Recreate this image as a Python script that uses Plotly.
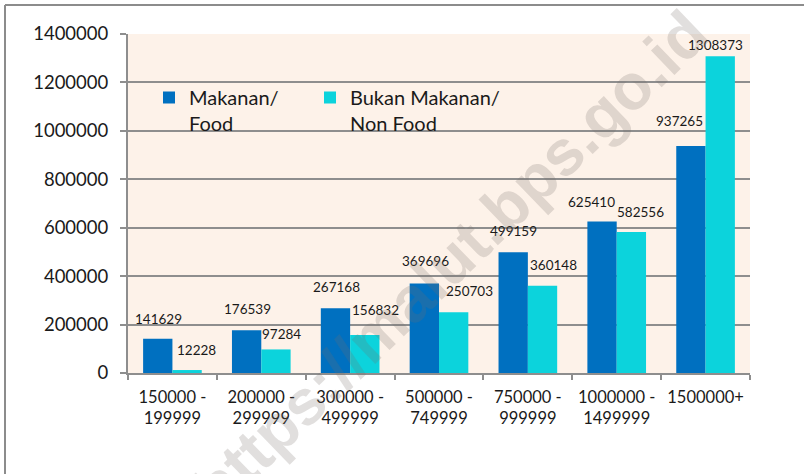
import plotly.graph_objects as go

# ---- data ----
categories = ["150000 -<br>199999", "200000 -<br>299999", "300000 -<br>499999",
              "500000 -<br>749999", "750000 -<br>999999", "1000000 -<br>1499999",
              "1500000+"]
food = [141629, 176539, 267168, 369696, 499159, 625410, 937265]
nonfood = [12228, 97284, 156832, 250703, 360148, 582556, 1308373]
series_names = ["Makanan/<br>Food", "Bukan Makanan/<br>Non Food"]
y_ticks = [0, 200000, 400000, 600000, 800000, 1000000, 1200000, 1400000]

# ---- style ----
BLUE = "#0070C0"
CYAN = "#0CD3DC"
GRID = "#8E8E8E"
BG = "#FDF2E9"
FONT = "Lato"
W, H = 804, 474
ML, MR, MT, MB = 128, 54, 34, 101
PW, PH = W - ML - MR, H - MT - MB
BARGAP = 0.34
half_bar = PW / len(categories) * (1 - BARGAP) / 4  # offset of each bar centre from category centre

# label offsets (px) relative to top-centre of each bar: (dx, up)
food_lbl_off = [(1, 20), (1, 21), (1, 21), (1, 22), (0, 21), (-11, 20), (-11, 25)]
nonfood_lbl_off = [(9, 20), (6, 15), (11, 25), (16, 21), (11, 21), (9, 20), (-5, 11)]

fig = go.Figure()
fig.add_trace(go.Bar(x=categories, y=food, name=series_names[0], legendwidth=116,
                     marker=dict(color=BLUE, line=dict(width=0))))
fig.add_trace(go.Bar(x=categories, y=nonfood, name=series_names[1], legendwidth=160,
                     marker=dict(color=CYAN, line=dict(width=0))))

annotations = []
for cat, v, (dx, up) in zip(categories, food, food_lbl_off):
    annotations.append(dict(x=cat, y=v, xref="x", yref="y", text=str(v), showarrow=False,
                            xshift=-half_bar + dx, yshift=up, xanchor="center", yanchor="middle",
                            font=dict(family=FONT, size=13.5, color="#1a1a1a")))
for cat, v, (dx, up) in zip(categories, nonfood, nonfood_lbl_off):
    annotations.append(dict(x=cat, y=v, xref="x", yref="y", text=str(v), showarrow=False,
                            xshift=half_bar + dx, yshift=up, xanchor="center", yanchor="middle",
                            font=dict(family=FONT, size=13.5, color="#1a1a1a")))


def px_to_paper(px, py):
    return (px - ML) / PW, (H - MB - py) / PH


# watermark
wx, wy = px_to_paper(450, 261)
annotations.append(dict(x=wx, y=wy, xref="paper", yref="paper", text="https://malut.bps.go.id",
                        showarrow=False, textangle=-44, xanchor="center", yanchor="middle",
                        font=dict(family="Liberation Sans", size=64, weight="bold",
                                  color="rgba(120,110,105,0.22)")))

# outer frame (left and top edges)
fx0, fy0 = px_to_paper(5, 5)
fx1, _ = px_to_paper(810, 5)
_, fyb = px_to_paper(5, 490)
shapes = [
    dict(type="line", xref="paper", yref="paper", x0=fx0, y0=fyb, x1=fx0, y1=fy0,
         line=dict(color="#8C8C8C", width=2)),
    dict(type="line", xref="paper", yref="paper", x0=fx0, y0=fy0, x1=fx1, y1=fy0,
         line=dict(color="#8C8C8C", width=2)),
]

lx, ly = px_to_paper(149, 78)
fig.update_layout(
    width=W, height=H, autosize=False,
    margin=dict(l=ML, r=MR, t=MT, b=MB, pad=0),
    paper_bgcolor="white", plot_bgcolor=BG,
    barmode="group", bargap=BARGAP, bargroupgap=0,
    font=dict(family=FONT, color="#1a1a1a"),
    showlegend=True,
    legend=dict(orientation="h", x=lx, y=ly, xanchor="left", yanchor="top",
                bgcolor="rgba(0,0,0,0)", borderwidth=0, valign="top",
                font=dict(family=FONT, size=20, color="#1a1a1a"),
                traceorder="normal"),
    annotations=annotations,
    shapes=shapes,
    xaxis=dict(type="category", showline=True, linecolor=GRID, linewidth=2,
               ticks="outside", ticklen=5, tickwidth=2, tickcolor=GRID, tickson="boundaries",
               ticklabelstandoff=8,
               showgrid=False, tickfont=dict(family=FONT, size=16.5, color="#1a1a1a"),
               fixedrange=True),
    yaxis=dict(range=[0, 1400000], tickvals=y_ticks, ticktext=[str(t) for t in y_ticks],
               showline=True, linecolor=GRID, linewidth=2,
               ticks="outside", ticklen=6, tickwidth=2, tickcolor=GRID,
               showgrid=True, gridcolor=GRID, gridwidth=2, zeroline=False,
               ticklabelstandoff=8,
               tickfont=dict(family=FONT, size=18.5, color="#1a1a1a"), fixedrange=True),
)

fig.write_html("out.html", config={"displayModeBar": False},
               post_script="document.body.style.margin='0';document.body.style.overflow='hidden';")
